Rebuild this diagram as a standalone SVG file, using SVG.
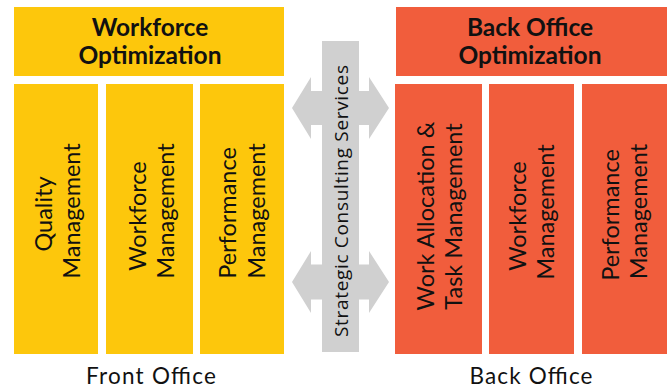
<svg xmlns="http://www.w3.org/2000/svg" width="670" height="389" viewBox="0 0 670 389">
  <style>
    .front { fill: #FDC70C; }
    .back { fill: #F15D3C; }
    .grey { fill: #D0D0D0; }
    .head { font-family: Lato, "Open Sans", sans-serif; font-weight: bold; font-size: 24.5px; fill: #111; text-anchor: middle; }
    .col { font-family: Lato, "Open Sans", sans-serif; font-size: 23.5px; fill: #111; text-anchor: middle; }
    .mid { font-family: "Open Sans", "DejaVu Sans", sans-serif; font-size: 19px; fill: #111; text-anchor: middle; }
    .foot { font-family: Lato, "Open Sans", sans-serif; font-size: 22.5px; fill: #111; text-anchor: middle; }
  </style>

  <!-- double-headed arrows running behind the central bar -->
  <g id="connectors" class="grey">
    <path d="M292,108 L311,77 L311,91 L369,91 L369,77 L389,108 L369,139 L369,125 L311,125 L311,139 Z"/>
    <path d="M292,282 L311,251 L311,264.5 L369,264.5 L369,251 L389,282 L369,313 L369,299.5 L311,299.5 L311,313 Z"/>
  </g>

  <!-- front office -->
  <g id="workforce-optimization">
    <rect class="front" x="14" y="7" width="270" height="69"/>
    <text class="head"><tspan x="150" y="36">Workforce</tspan><tspan x="150" y="64">Optimization</tspan></text>
  </g>
  <g id="front-quality">
    <rect class="front" x="14" y="84" width="84" height="270"/>
    <text class="col" transform="translate(56,0) rotate(-90)"><tspan x="-214" y="-4.5">Quality</tspan><tspan x="-211" y="24">Management</tspan></text>
  </g>
  <g id="front-workforce">
    <rect class="front" x="106" y="84" width="87" height="270"/>
    <text class="col" transform="translate(149.5,0) rotate(-90)"><tspan x="-216" y="-4">Workforce</tspan><tspan x="-211" y="24">Management</tspan></text>
  </g>
  <g id="front-performance">
    <rect class="front" x="200" y="84" width="84" height="270"/>
    <text class="col" transform="translate(242,0) rotate(-90)"><tspan x="-213" y="-6.5">Performance</tspan><tspan x="-211" y="23">Management</tspan></text>
  </g>

  <!-- central bar -->
  <g id="strategic-consulting">
    <rect class="grey" x="322" y="41" width="37" height="311"/>
    <text class="mid" transform="translate(348,201) rotate(-90)" x="0" y="0" textLength="272" lengthAdjust="spacing">Strategic Consulting Services</text>
  </g>

  <!-- back office -->
  <g id="back-office-optimization">
    <rect class="back" x="396" y="7" width="271" height="69"/>
    <text class="head"><tspan x="530" y="36">Back Office</tspan><tspan x="530" y="64">Optimization</tspan></text>
  </g>
  <g id="back-work-allocation">
    <rect class="back" x="395" y="84" width="87" height="270"/>
    <text class="col" transform="translate(438.5,0) rotate(-90)"><tspan x="-216" y="-4.5">Work Allocation &amp;</tspan><tspan x="-216.5" y="23.5">Task Management</tspan></text>
  </g>
  <g id="back-workforce">
    <rect class="back" x="489" y="84" width="85" height="270"/>
    <text class="col" transform="translate(531.5,0) rotate(-90)"><tspan x="-216" y="-6">Workforce</tspan><tspan x="-212" y="22.5">Management</tspan></text>
  </g>
  <g id="back-performance">
    <rect class="back" x="582" y="84" width="85" height="270"/>
    <text class="col" transform="translate(624.5,0) rotate(-90)"><tspan x="-215" y="-6">Performance</tspan><tspan x="-211.5" y="22.5">Management</tspan></text>
  </g>

  <!-- section captions -->
  <g id="front-office-label">
    <text class="foot" x="151" y="384" textLength="130" lengthAdjust="spacing">Front Office</text>
  </g>
  <g id="back-office-label">
    <text class="foot" x="531" y="384" textLength="123" lengthAdjust="spacing">Back Office</text>
  </g>
</svg>
